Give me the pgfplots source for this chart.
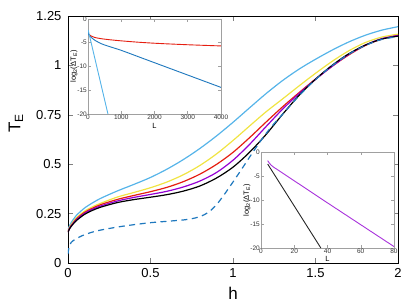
\documentclass[border=0pt]{standalone}
\usepackage{pgfplots}
\pgfplotsset{compat=1.18}
\usepackage{fontspec}
\setmainfont{Liberation Sans}
\definecolor{cLB}{HTML}{56B4E9}
\definecolor{cY}{HTML}{F0E442}
\definecolor{cR}{HTML}{E51E10}
\definecolor{cP}{HTML}{9400D3}
\definecolor{cD}{HTML}{1E78BE}
\definecolor{cFr}{HTML}{A0A0A0}
\begin{document}
\begin{tikzpicture}
\useasboundingbox (-68pt,-43pt) rectangle (347pt,263pt);
\begin{axis}[at={(0,0)}, anchor=south west, scale only axis,
  width=330pt, height=247pt,
  xmin=0, xmax=2, ymin=0, ymax=1.25,
  xtick={0,0.5,1,1.5,2}, xticklabels={0,0.5,1,1.5,2},
  ytick={0,0.25,0.5,0.75,1,1.25}, yticklabels={0,0.25,0.5,0.75,1,1.25},
  scaled ticks=false,
  axis line style={black, line width=0.9pt},
  tick style={gray, line width=0.6pt},
  major tick length=5pt,
  ticklabel style={font=\fontsize{13}{15}\selectfont},
  yticklabel style={xshift=-3pt},
  xticklabel style={yshift=-2pt},
  xlabel={h}, ylabel={T\textsubscript{E}},
  every axis x label/.style={at={(axis description cs:0.5,-0.121)}, anchor=center, font=\fontsize{17}{19}\selectfont},
  every axis y label/.style={at={(axis description cs:-0.158,0.565)}, rotate=90, anchor=center, font=\fontsize{17}{19}\selectfont},
  every axis plot/.append style={line width=1.2pt, no markers},
]
\addplot[cLB, smooth] coordinates {(0,0.17)(0.01,0.19)(0.02,0.205)(0.05,0.24)(0.1,0.278)(0.15,0.305)(0.2,0.328)(0.3,0.365)(0.4,0.398)(0.5,0.433)(0.6,0.475)(0.7,0.524)(0.8,0.58)(0.9,0.643)(1.0,0.712)(1.1,0.785)(1.2,0.857)(1.3,0.923)(1.4,0.981)(1.5,1.031)(1.6,1.077)(1.7,1.118)(1.8,1.152)(1.9,1.178)(2.0,1.196)};
\addplot[cY, smooth] coordinates {(0,0.162)(0.01,0.182)(0.02,0.195)(0.05,0.228)(0.1,0.262)(0.15,0.285)(0.2,0.303)(0.3,0.334)(0.4,0.357)(0.5,0.381)(0.6,0.41)(0.7,0.447)(0.8,0.494)(0.9,0.552)(1.0,0.62)(1.1,0.693)(1.2,0.765)(1.3,0.83)(1.4,0.896)(1.5,0.96)(1.6,1.02)(1.7,1.073)(1.8,1.115)(1.9,1.143)(2.0,1.158)};
\addplot[cR, smooth] coordinates {(0,0.158)(0.01,0.178)(0.02,0.19)(0.05,0.222)(0.1,0.256)(0.15,0.278)(0.2,0.296)(0.3,0.322)(0.4,0.342)(0.5,0.361)(0.6,0.383)(0.7,0.412)(0.8,0.45)(0.9,0.499)(1.0,0.56)(1.1,0.634)(1.2,0.713)(1.3,0.79)(1.4,0.862)(1.5,0.931)(1.6,0.995)(1.7,1.052)(1.8,1.1)(1.9,1.133)(2.0,1.152)};
\addplot[cP, smooth] coordinates {(0,0.156)(0.01,0.176)(0.02,0.188)(0.05,0.218)(0.1,0.251)(0.15,0.273)(0.2,0.289)(0.3,0.314)(0.4,0.332)(0.5,0.347)(0.6,0.363)(0.7,0.385)(0.8,0.415)(0.9,0.458)(1.0,0.52)(1.1,0.6)(1.2,0.69)(1.3,0.778)(1.4,0.857)(1.5,0.929)(1.6,0.995)(1.7,1.055)(1.8,1.102)(1.9,1.135)(2.0,1.151)};
\addplot[black, smooth] coordinates {(0,0.155)(0.01,0.174)(0.02,0.186)(0.05,0.214)(0.1,0.246)(0.15,0.267)(0.2,0.283)(0.3,0.306)(0.4,0.321)(0.5,0.333)(0.6,0.346)(0.7,0.364)(0.8,0.39)(0.9,0.43)(1.0,0.485)(1.1,0.56)(1.2,0.65)(1.3,0.752)(1.4,0.848)(1.5,0.93)(1.6,1.0)(1.7,1.058)(1.8,1.102)(1.9,1.133)(2.0,1.148)};
\addplot[cD, smooth, dash pattern=on 6pt off 4.5pt] coordinates {(0,0.045)(0.005,0.075)(0.01,0.09)(0.02,0.105)(0.04,0.118)(0.07,0.132)(0.1,0.143)(0.15,0.157)(0.2,0.167)(0.3,0.182)(0.4,0.194)(0.5,0.204)(0.6,0.211)(0.7,0.218)(0.75,0.224)(0.8,0.235)(0.85,0.256)(0.9,0.295)(0.95,0.35)(1.0,0.41)(1.05,0.472)(1.1,0.535)(1.15,0.597)(1.2,0.655)(1.25,0.706)(1.3,0.752)(1.4,0.846)(1.5,0.928)(1.6,0.998)(1.7,1.056)(1.8,1.1)(1.9,1.131)(2.0,1.146)};
\end{axis}
% inset 1
\begin{axis}[at={(20pt,149pt)}, anchor=south west, scale only axis,
  width=133pt, height=95pt,
  xmin=0, xmax=4000, ymin=-20, ymax=0,
  axis background/.style={fill=white},
  axis line style={cFr, line width=0.6pt},
  tick style={cFr, line width=0.5pt},
  major tick length=3pt,
  scaled ticks=false,
  xtick={0,1000,2000,3000,4000}, xticklabels={0,1000,2000,3000,4000},
  ytick={-20,-15,-10,-5,0}, yticklabels={-20,-15,-10,-5,0},
  ticklabel style={font=\fontsize{6.5}{7}\selectfont, inner sep=1pt, text=black!80},
  xlabel={L}, ylabel={log\textsubscript{2}(ΔT\textsubscript{E})},
  every axis x label/.style={at={(axis description cs:0.5,0)}, yshift=-12pt, anchor=center, font=\fontsize{7.5}{8}\selectfont},
  every axis y label/.style={at={(axis description cs:0,0.5)}, xshift=-14pt, rotate=90, anchor=center, font=\fontsize{7.5}{8}\selectfont},
  every axis plot/.append style={line width=0.9pt, no markers},
]
\addplot[cR, smooth] coordinates {(4,-2.6)(20,-3.2)(100,-3.6)(200,-3.88)(400,-4.15)(700,-4.4)(1000,-4.6)(1500,-4.88)(2000,-5.1)(2500,-5.27)(3000,-5.42)(3500,-5.55)(4000,-5.67)};
\addplot[cD, smooth] coordinates {(4,-2.6)(20,-3.3)(100,-3.9)(200,-4.45)(400,-5.2)(600,-5.7)(1000,-6.6)(1500,-7.9)(2000,-9.2)(2500,-10.5)(3000,-11.8)(3500,-13.1)(4000,-14.4)};
\addplot[cLB] coordinates {(4,-2.3)(600,-20)};
\end{axis}
% inset 2
\begin{axis}[at={(193pt,15pt)}, anchor=south west, scale only axis,
  width=133pt, height=96pt,
  xmin=0, xmax=80, ymin=-20, ymax=0,
  axis background/.style={fill=white},
  axis line style={cFr, line width=0.6pt},
  tick style={cFr, line width=0.5pt},
  major tick length=3pt,
  xtick={0,20,40,60,80}, xticklabels={0,20,40,60,80},
  ytick={-20,-15,-10,-5,0}, yticklabels={-20,-15,-10,-5,0},
  ticklabel style={font=\fontsize{6.5}{7}\selectfont, inner sep=1pt, text=black!80},
  xlabel={L}, ylabel={log\textsubscript{2}(ΔT\textsubscript{E})},
  every axis x label/.style={at={(axis description cs:0.5,0)}, yshift=-11pt, anchor=center, font=\fontsize{7.5}{8}\selectfont},
  every axis y label/.style={at={(axis description cs:0,0.5)}, xshift=-14pt, rotate=90, anchor=center, font=\fontsize{7.5}{8}\selectfont},
  every axis plot/.append style={line width=0.9pt, no markers},
]
\addplot[cP!80] coordinates {(4,-1.8)(5,-2.3)(6,-2.7)(7,-3.0)(8,-3.25)(10,-3.7)(20,-6.0)(40,-10.6)(60,-15.15)(80,-19.7)};
\addplot[black!85] coordinates {(4,-2.5)(36,-20)};
\end{axis}
\end{tikzpicture}
\end{document}
